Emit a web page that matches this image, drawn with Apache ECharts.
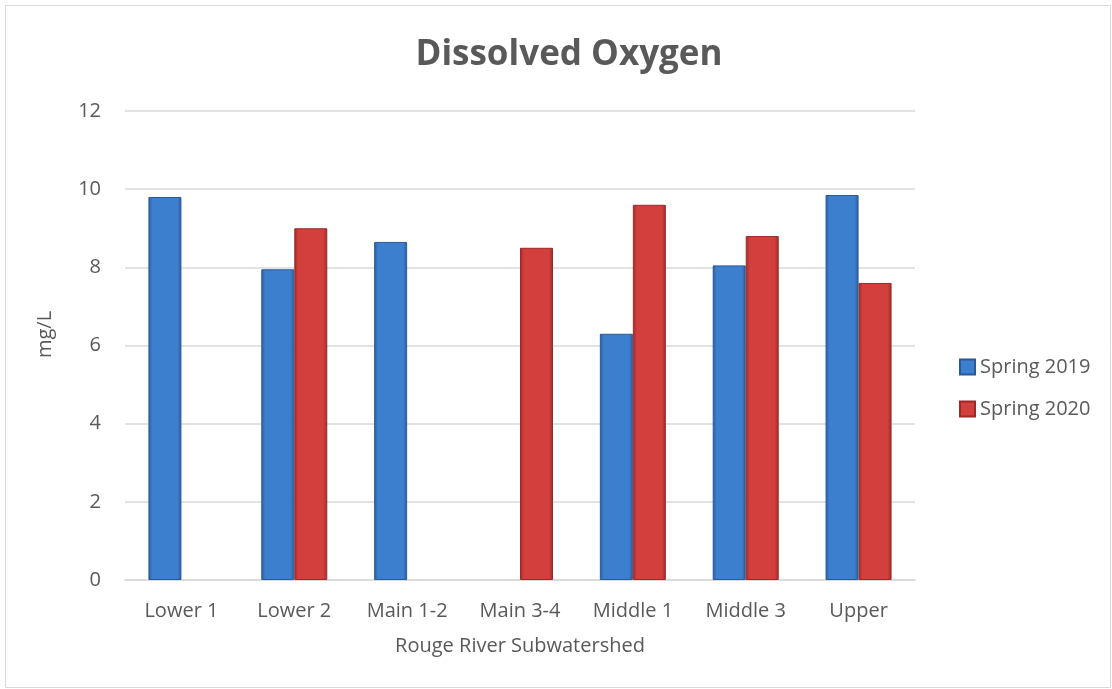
<!DOCTYPE html>
<html>
<head>
<meta charset="utf-8">
<script src="https://cdn.jsdelivr.net/npm/echarts@6/dist/echarts.min.js"></script>
<style>
html,body{margin:0;padding:0;background:#fff;}
#chart{width:1112px;height:689px;}
</style>
</head>
<body>
<div id="chart"></div>
<script>
const categories = ['Lower 1', 'Lower 2', 'Main 1-2', 'Main 3-4', 'Middle 1', 'Middle 3', 'Upper'];
const spring2019 = [9.8, 7.95, 8.65, null, 6.3, 8.05, 9.85];
const spring2020 = [null, 9.0, null, 8.5, 9.6, 8.8, 7.6];
const seriesNames = ['Spring 2019', 'Spring 2020'];

const chart = echarts.init(document.getElementById('chart'), null, {renderer: 'canvas'});
const font = '"Open Sans", "Noto Sans", sans-serif';
const txt = '#595959';

function grad(edge, mid) {
  return new echarts.graphic.LinearGradient(0, 0, 1, 0, [
    {offset: 0, color: edge},
    {offset: 0.12, color: mid},
    {offset: 0.5, color: mid},
    {offset: 0.88, color: mid},
    {offset: 1, color: edge}
  ]);
}

chart.setOption({
  backgroundColor: '#fff',
  animation: false,
  graphic: [{
    type: 'rect', left: 3, top: 3,
    shape: {width: 1105, height: 682},
    style: {fill: 'none', stroke: '#d9d9d9', lineWidth: 1}
  }],
  title: {
    text: 'Dissolved Oxygen',
    left: 564, textAlign: 'center', top: 33,
    textStyle: {fontFamily: font, fontSize: 35, fontWeight: 'bold', color: txt}
  },
  legend: {
    orient: 'vertical', left: 954, top: 352,
    icon: 'rect',
    itemWidth: 15, itemHeight: 15, itemGap: 22,
    textStyle: {fontFamily: font, fontSize: 20, color: txt},
    data: seriesNames
  },
  grid: {left: 125, right: 197, top: 111, bottom: 109},
  xAxis: {
    type: 'category', data: categories,
    name: 'Rouge River Subwatershed', nameLocation: 'middle', nameGap: 56,
    nameTextStyle: {fontFamily: font, fontSize: 20, color: txt},
    axisLine: {lineStyle: {color: '#d9d9d9', width: 1.5}},
    axisTick: {show: false},
    axisLabel: {fontFamily: font, fontSize: 20, color: txt, margin: 21}
  },
  yAxis: {
    type: 'value', min: 0, max: 12, interval: 2,
    name: 'mg/L', nameLocation: 'middle', nameGap: 70, nameRotate: 90,
    nameTextStyle: {fontFamily: font, fontSize: 20, color: txt, padding: [0, 0, 0, 22]},
    axisLine: {show: false}, axisTick: {show: false},
    axisLabel: {fontFamily: font, fontSize: 20, color: txt, margin: 24},
    splitLine: {lineStyle: {color: '#d9d9d9', width: 1.5}}
  },
  series: [
    {
      name: seriesNames[0], type: 'bar', data: spring2019,
      barWidth: 33, barGap: '0%',
      itemStyle: {color: grad('#2b5c9c', '#3d7fcf'), borderColor: '#2a5a96', borderWidth: 1}
    },
    {
      name: seriesNames[1], type: 'bar', data: spring2020,
      barWidth: 33, barGap: '0%',
      itemStyle: {color: grad('#9e2b29', '#d23f3c'), borderColor: '#9a2a28', borderWidth: 1}
    }
  ]
});
</script>
</body>
</html>
